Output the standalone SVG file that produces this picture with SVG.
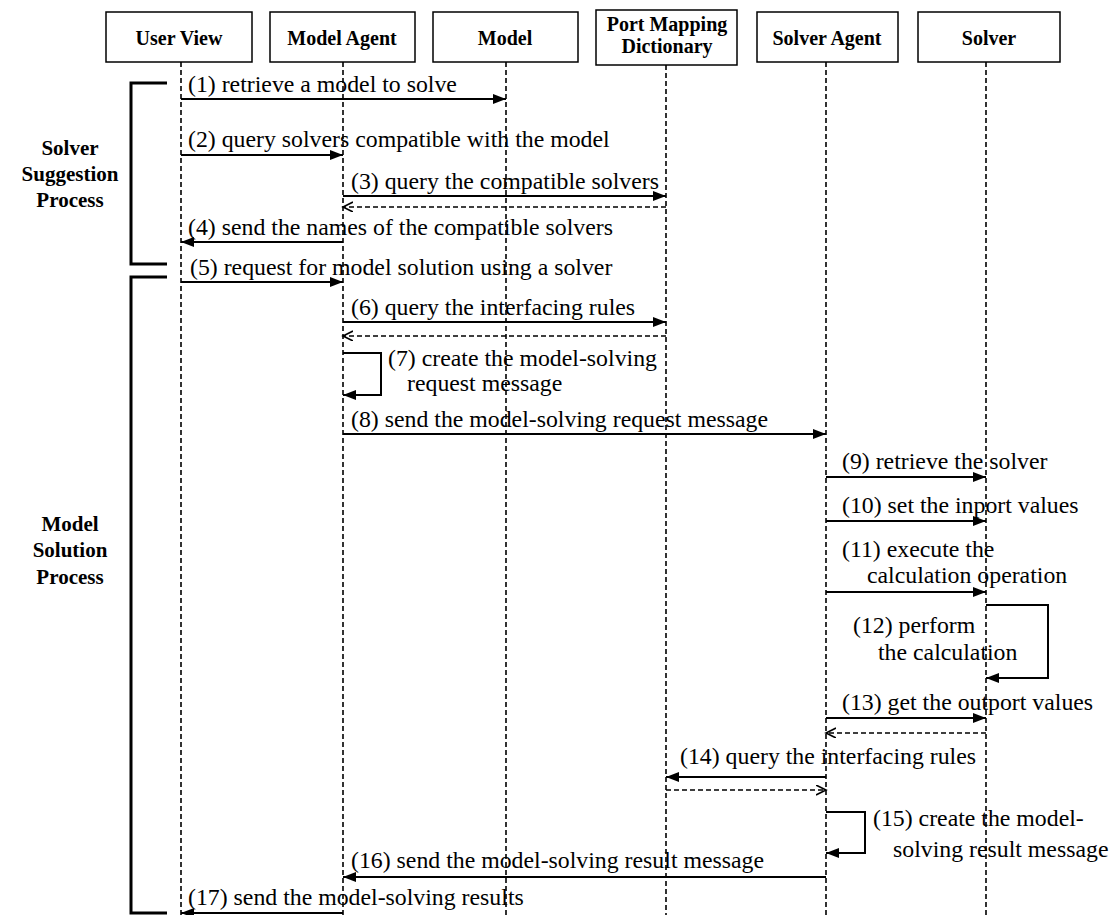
<svg xmlns="http://www.w3.org/2000/svg" width="1113" height="915" viewBox="0 0 1113 915">
<style>
.box{fill:#fff;stroke:#000;stroke-width:1.5}
.hd{font-family:"Liberation Serif",serif;font-weight:bold;font-size:20px;text-anchor:middle;fill:#000}
.life{stroke:#000;stroke-width:1.6;stroke-dasharray:5 3;fill:none}
.msg{stroke:#000;stroke-width:2;fill:none;marker-end:url(#fa)}
.ret{stroke:#000;stroke-width:1.6;stroke-dasharray:5 3;fill:none;marker-end:url(#oa)}
.t{font-family:"Liberation Serif",serif;font-size:23.8px;fill:#000}
.side{font-family:"Liberation Serif",serif;font-weight:bold;font-size:21px;text-anchor:middle;fill:#000}
.br{stroke:#000;stroke-width:3;fill:none}
</style>
<defs>
<marker id="fa" markerUnits="userSpaceOnUse" markerWidth="14" markerHeight="11" refX="13" refY="5" orient="auto"><path d="M0,0 L13,5 L0,10 z" fill="#000"/></marker>
<marker id="oa" markerUnits="userSpaceOnUse" markerWidth="12" markerHeight="12" refX="10" refY="5" orient="auto"><path d="M0,0 L10,5 L0,10" fill="none" stroke="#000" stroke-width="1.6"/></marker>
</defs>
<rect width="1113" height="915" fill="#fff"/>

<g id="userView">
<rect class="box" x="106" y="12" width="146" height="50"/>
<text class="hd" x="179" y="45">User View</text>
<line class="life" x1="181" y1="62" x2="181" y2="915"/>
</g>
<g id="modelAgent">
<rect class="box" x="270" y="12" width="145" height="50"/>
<text class="hd" x="342" y="45">Model Agent</text>
<line class="life" x1="343" y1="62" x2="343" y2="915"/>
</g>
<g id="model">
<rect class="box" x="433" y="12" width="145" height="50"/>
<text class="hd" x="505" y="45">Model</text>
<line class="life" x1="506" y1="62" x2="506" y2="915"/>
</g>
<g id="portMapping">
<rect class="box" x="596" y="10" width="141" height="55"/>
<text class="hd" x="667" y="31">Port Mapping</text>
<text class="hd" x="667" y="53">Dictionary</text>
<line class="life" x1="666" y1="65" x2="666" y2="915"/>
</g>
<g id="solverAgent">
<rect class="box" x="757" y="12" width="141" height="50"/>
<text class="hd" x="827" y="45">Solver Agent</text>
<line class="life" x1="826" y1="62" x2="826" y2="915"/>
</g>
<g id="solver">
<rect class="box" x="918" y="12" width="142" height="50"/>
<text class="hd" x="989" y="45">Solver</text>
<line class="life" x1="986" y1="62" x2="986" y2="915"/>
</g>

<g id="phases">
<path class="br" d="M167,83 H131 V264 H167"/>
<text class="side" x="70" y="155">Solver</text>
<text class="side" x="70" y="181">Suggestion</text>
<text class="side" x="70" y="207">Process</text>
<path class="br" d="M167,277 H131 V913 H167"/>
<text class="side" x="70" y="531">Model</text>
<text class="side" x="70" y="557">Solution</text>
<text class="side" x="70" y="584">Process</text>
</g>

<g id="connectors">
<line class="msg" x1="181" y1="99" x2="506" y2="99"/>
<line class="msg" x1="181" y1="155" x2="343" y2="155"/>
<line class="msg" x1="343" y1="196" x2="666" y2="196"/>
<line class="ret" x1="666" y1="207" x2="343" y2="207"/>
<line class="msg" x1="343" y1="242" x2="181" y2="242"/>
<line class="msg" x1="181" y1="282" x2="343" y2="282"/>
<line class="msg" x1="343" y1="322" x2="666" y2="322"/>
<line class="ret" x1="666" y1="336" x2="343" y2="336"/>
<path class="msg" d="M343,353 H381 V395 H343"/>
<line class="msg" x1="343" y1="434" x2="826" y2="434"/>
<line class="msg" x1="826" y1="477" x2="986" y2="477"/>
<line class="msg" x1="826" y1="521" x2="986" y2="521"/>
<line class="msg" x1="826" y1="592" x2="986" y2="592"/>
<path class="msg" d="M986,605 H1048 V678 H986"/>
<line class="msg" x1="826" y1="718" x2="986" y2="718"/>
<line class="ret" x1="986" y1="733" x2="826" y2="733"/>
<line class="msg" x1="826" y1="777" x2="666" y2="777"/>
<line class="ret" x1="666" y1="790" x2="826" y2="790"/>
<path class="msg" d="M826,812 H865 V853 H826"/>
<line class="msg" x1="826" y1="877" x2="343" y2="877"/>
<line class="msg" x1="343" y1="913" x2="181" y2="913"/>
</g>

<g id="labels">
<text class="t" x="188" y="92">(1) retrieve a model to solve</text>
<text class="t" x="188" y="147">(2) query solvers compatible with the model</text>
<text class="t" x="351" y="189">(3) query the compatible solvers</text>
<text class="t" x="188" y="235">(4) send the names of the compatible solvers</text>
<text class="t" x="190" y="275">(5) request for model solution using a solver</text>
<text class="t" x="351" y="315">(6) query the interfacing rules</text>
<text class="t" x="388" y="366">(7) create the model-solving</text>
<text class="t" x="407" y="391">request message</text>
<text class="t" x="351" y="427">(8) send the model-solving request message</text>
<text class="t" x="842" y="469">(9) retrieve the solver</text>
<text class="t" x="842" y="513">(10) set the inport values</text>
<text class="t" x="842" y="557">(11) execute the</text>
<text class="t" x="867" y="583">calculation operation</text>
<text class="t" x="853" y="633">(12) perform</text>
<text class="t" x="878" y="660">the calculation</text>
<text class="t" x="842" y="710">(13) get the outport values</text>
<text class="t" x="680" y="764">(14) query the interfacing rules</text>
<text class="t" x="873" y="826">(15) create the model-</text>
<text class="t" x="893" y="857">solving result message</text>
<text class="t" x="351" y="868">(16) send the model-solving result message</text>
<text class="t" x="188" y="905">(17) send the model-solving results</text>
</g>
</svg>
